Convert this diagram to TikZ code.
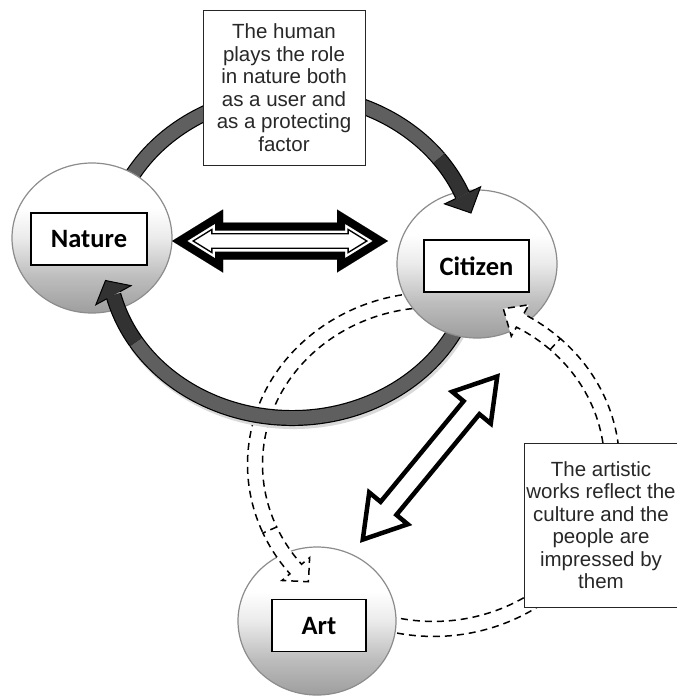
\documentclass[tikz,border=0pt]{standalone}
\usepackage{fontspec}
\setmainfont{Liberation Sans}
\newfontfamily\lblfont{Carlito}
\usetikzlibrary{calc,shapes.geometric}
\pgfdeclareverticalshading{ballshade}{100bp}{color(0bp)=(black!38); color(25bp)=(black!38); color(37bp)=(black!26); color(50bp)=(black!8); color(60bp)=(white); color(100bp)=(white)}
\definecolor{ringgray}{RGB}{95,95,95}
\definecolor{ringdark}{RGB}{50,50,50}
\definecolor{txtgray}{RGB}{40,40,40}
\newcommand\dblarrowpath[4]{(-#1,0) -- ({-#1+#4},#3) -- ({-#1+#4},#2) -- ({#1-#4},#2) -- ({#1-#4},#3) -- (#1,0) -- ({#1-#4},-#3) -- ({#1-#4},-#2) -- ({-#1+#4},-#2) -- ({-#1+#4},-#3) -- cycle}
\begin{document}
\begin{tikzpicture}[x=1pt,y=1pt,
  ball/.style={ellipse, inner sep=0pt, draw=black!45, line width=1.2pt, shade, shading=ballshade},
  lbl/.style={draw=black, line width=1.1pt, fill=white, minimum height=52pt, inner sep=0pt, font=\lblfont\bfseries\fontsize{26.5}{30}\selectfont},
  textbox/.style={draw=black!85, line width=0.8pt, fill=white, inner sep=0pt, align=center, text=txtgray, font=\fontsize{20.5}{22.5}\selectfont},
  ringedge/.style={draw=black, line width=16pt},
  ringfill/.style={draw=ringgray, line width=13.6pt},
  darkfill/.style={draw=ringdark, line width=13.6pt},
  ringhead/.style={draw=black, line width=1pt, fill=ringdark, line join=miter},
  dline/.style={draw=black, line width=1.5pt, dash pattern=on 7pt off 5pt},
  dhead/.style={draw=black, line width=1.5pt, dash pattern=on 7pt off 5pt, fill=white},
]
\useasboundingbox (0,0) rectangle (677,-696);
\fill[white] (0,0) rectangle (677,-696);

\coordinate (rc) at (292,-256);
\coordinate (dc) at (433.5,-464.4);

% dashed arrows, hidden parts first
\draw[dline] ($(dc)+(85:186pt and 172pt)$) arc[start angle=85,end angle=203.5,x radius=186,y radius=172];
\draw[dline] ($(dc)+(85:171pt and 157pt)$) arc[start angle=85,end angle=203.5,x radius=171,y radius=157];
\draw[dline] ($(dc)+(255:186pt and 172pt)$) arc[start angle=255,end angle=407,x radius=186,y radius=172];
\draw[dline] ($(dc)+(255:171pt and 157pt)$) arc[start angle=255,end angle=407,x radius=171,y radius=157];

% grey ring shafts
\draw[black!15, line width=16pt] ($(rc)+(1.5,-3)+(-10:184pt and 162pt)$) arc[start angle=-10,end angle=-148,x radius=184,y radius=162];
\draw[ringedge] ($(rc)+(165:184pt and 162pt)$) arc[start angle=165,end angle=37,x radius=184,y radius=162];
\draw[ringfill] ($(rc)+(165:184pt and 162pt)$) arc[start angle=165,end angle=37,x radius=184,y radius=162];
\draw[ringedge] ($(rc)+(-10:184pt and 162pt)$) arc[start angle=-10,end angle=-148,x radius=184,y radius=162];
\draw[ringfill] ($(rc)+(-10:184pt and 162pt)$) arc[start angle=-10,end angle=-148,x radius=184,y radius=162];

% circles
\node[ball, minimum width=160pt, minimum height=150pt] (nature) at (92,-238) {};
\node[ball, minimum width=160pt, minimum height=148pt] (citizen) at (477,-264) {};
\node[ball, minimum width=158pt, minimum height=148pt] (art) at (317,-621) {};
\node[lbl, minimum width=116pt] (naturelbl) at (89,-239) {Nature};
\node[lbl, minimum width=105pt] (citizenlbl) at (476.5,-266) {Citizen};
\node[lbl, minimum width=94pt] (artlbl) at (319,-625.5) {Art};

% grey ring heads
\coordinate (h1b) at ($(rc)+(22:184pt and 162pt)$);
\coordinate (h1t) at (471,-213);
\draw[ringedge] ($(rc)+(37:184pt and 162pt)$) arc[start angle=37,end angle=22,x radius=184,y radius=162];
\draw[darkfill] ($(rc)+(37:184pt and 162pt)$) arc[start angle=37,end angle=22,x radius=184,y radius=162];
\filldraw[ringhead] ($(h1b)!7.4pt!90:(h1t)$) -- ($(h1b)!20pt!90:(h1t)$) -- (h1t) -- ($(h1b)!20pt!-90:(h1t)$) -- ($(h1b)!7.4pt!-90:(h1t)$);

\coordinate (h2b) at ($(rc)+(-166:184pt and 162pt)$);
\coordinate (h2t) at (105.5,-280.5);
\draw[ringedge] ($(rc)+(-148:184pt and 162pt)$) arc[start angle=-148,end angle=-166,x radius=184,y radius=162];
\draw[darkfill] ($(rc)+(-148:184pt and 162pt)$) arc[start angle=-148,end angle=-166,x radius=184,y radius=162];
\filldraw[ringhead] ($(h2b)!7.4pt!90:(h2t)$) -- ($(h2b)!20pt!90:(h2t)$) -- (h2t) -- ($(h2b)!20pt!-90:(h2t)$) -- ($(h2b)!7.4pt!-90:(h2t)$);

% dashed heads (over circles)
\filldraw[dhead] ($(dc)+(203.5:171pt and 157pt)$) -- ($(dc)+(203.5:186pt and 172pt)$)
  arc[start angle=203.5,end angle=219.5,x radius=186,y radius=172]
  -- ($(dc)+(219.5:196.5pt and 182.5pt)$) -- ($(dc)+(225.5:178.5pt and 164.5pt)$)
  -- ($(dc)+(219.5:160.5pt and 146.5pt)$) -- ($(dc)+(219.5:171pt and 157pt)$)
  arc[start angle=219.5,end angle=203.5,x radius=171,y radius=157] -- cycle;
\filldraw[dhead] ($(dc)+(47:171pt and 157pt)$) -- ($(dc)+(47:186pt and 172pt)$)
  arc[start angle=47,end angle=61,x radius=186,y radius=172]
  -- ($(dc)+(61:196.5pt and 182.5pt)$) -- ($(dc)+(67.5:182.5pt and 168.5pt)$)
  -- ($(dc)+(61:160.5pt and 146.5pt)$) -- ($(dc)+(61:171pt and 157pt)$)
  arc[start angle=61,end angle=47,x radius=171,y radius=157] -- cycle;

% horizontal double arrow Nature <-> Citizen
\coordinate (harr) at (280,-241);
\begin{scope}[shift={(harr)}]
  \clip \dblarrowpath{108}{18.5}{31.5}{51};
  \fill[white] \dblarrowpath{108}{18.5}{31.5}{51};
  \draw[black, line width=23.6pt, line join=miter] \dblarrowpath{108}{18.5}{31.5}{51};
  \draw[white, line width=20.6pt, line join=miter] \dblarrowpath{108}{18.5}{31.5}{51};
  \draw[black, line width=16pt, line join=miter] \dblarrowpath{108}{18.5}{31.5}{51};
\end{scope}

% diagonal double arrow Art <-> Citizen
\coordinate (darr) at (430,-458);
\begin{scope}[shift={(darr)}, rotate=50.5]
  \clip \dblarrowpath{110}{12.5}{29}{47};
  \fill[white] \dblarrowpath{110}{12.5}{29}{47};
  \draw[black, line width=9pt, line join=miter] \dblarrowpath{110}{12.5}{29}{47};
\end{scope}

% text boxes
\node[textbox, minimum width=162pt, minimum height=155pt] (topnote) at (284,-87.5) {The human\\ plays the role\\ in nature both\\ as a user and\\ as a protecting\\ factor};
\node[textbox, minimum width=154pt, minimum height=164pt] (artnote) at (601,-525) {The artistic\\ works reflect the\\ culture and the\\ people are\\ impressed by\\ them};
\end{tikzpicture}
\end{document}
